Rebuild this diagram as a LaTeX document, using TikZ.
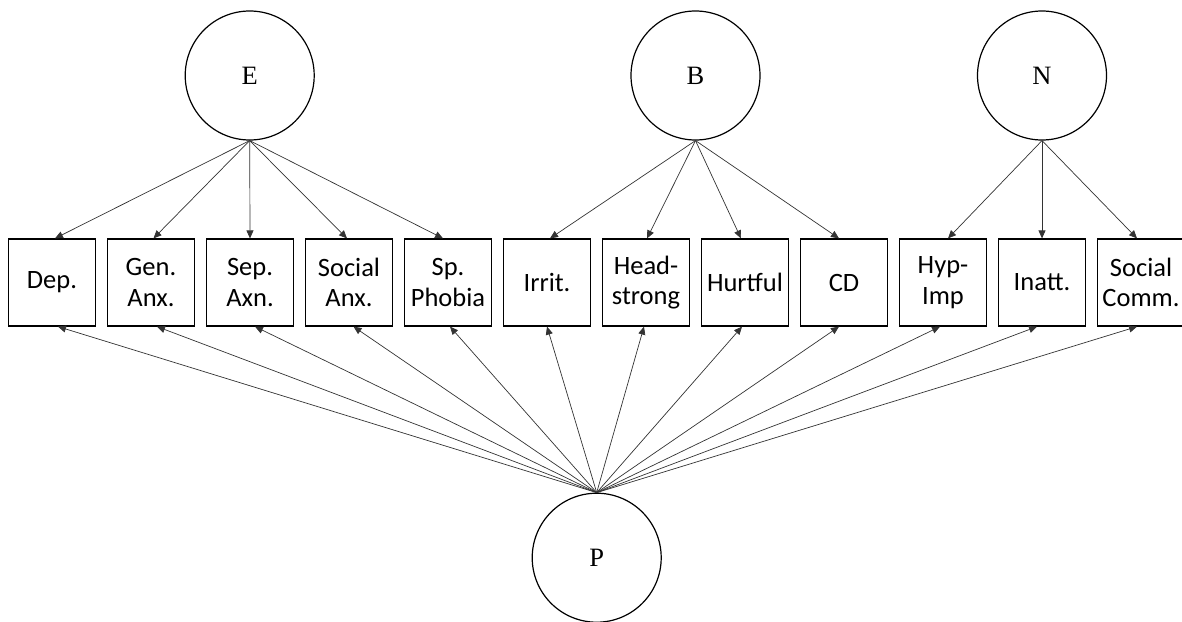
\documentclass[tikz,border=0pt]{standalone}
\usepackage{fontspec}
\setsansfont{Carlito}
\newfontfamily\circfont{Liberation Serif}
\usetikzlibrary{arrows.meta}
\begin{document}
\begin{tikzpicture}[x=1pt,y=-1pt,
  latent/.style={draw,circle,line width=1.2pt,minimum size=129pt,inner sep=0pt,font=\circfont\fontsize{26.5}{30}\selectfont},
  obs/.style={draw,rectangle,line width=1.2pt,minimum width=87pt,minimum height=87pt,inner sep=1pt,align=center,font=\sffamily\fontsize{26.5}{30.5}\selectfont},
  path/.style={draw=black!80,line width=0.7pt,-{Triangle[length=8pt,width=7pt]}}]
\useasboundingbox (0,0) rectangle (1182,621);
\node[latent] (E) at (249.7,75.5) {E};
\node[latent] (B) at (695.5,75.5) {B};
\node[latent] (N) at (1042,75.5) {N};
\node[latent] (P) at (596.7,557.7) {P};
\node[obs] (o0) at (52,282.5) {Dep.};
\node[obs] (o1) at (151,282.5) {Gen.\\Anx.};
\node[obs] (o2) at (250,282.5) {Sep.\\Axn.};
\node[obs] (o3) at (349,282.5) {Social\\Anx.};
\node[obs] (o4) at (448,282.5) {Sp.\\Phobia};
\node[obs] (o5) at (547,282.5) {Irrit.};
\node[obs] (o6) at (646,282.5) {Head-\\strong};
\node[obs] (o7) at (745,282.5) {Hurtful};
\node[obs] (o8) at (844,282.5) {CD};
\node[obs] (o9) at (943,282.5) {Hyp-\\Imp};
\node[obs] (o10) at (1042,282.5) {Inatt.};
\node[obs] (o11) at (1141,282.5) {Social\\Comm.};
% E loadings
\draw[path] (E.south) -- ([xshift=3pt]o0.north);
\draw[path] (E.south) -- ([xshift=2.5pt]o1.north);
\draw[path] (E.south) -- (o2.north);
\draw[path] (E.south) -- ([xshift=-2pt]o3.north);
\draw[path] (E.south) -- ([xshift=-5pt]o4.north);
% B loadings
\draw[path] (B.south) -- ([xshift=3pt]o5.north);
\draw[path] (B.south) -- ([xshift=1pt]o6.north);
\draw[path] (B.south) -- ([xshift=-4pt]o7.north);
\draw[path] (B.south) -- ([xshift=-5pt]o8.north);
% N loadings
\draw[path] (N.south) -- ([xshift=5pt]o9.north);
\draw[path] (N.south) -- (o10.north);
\draw[path] (N.south) -- ([xshift=-4pt]o11.north);
% P loadings
\draw[path] (P.north) -- ([xshift=6pt]o0.south);
\draw[path] (P.north) -- ([xshift=6pt]o1.south);
\draw[path] (P.north) -- ([xshift=5pt]o2.south);
\draw[path] (P.north) -- ([xshift=4.5pt]o3.south);
\draw[path] (P.north) -- ([xshift=2pt]o4.south);
\draw[path] (P.north) -- (o5.south);
\draw[path] (P.north) -- ([xshift=-2pt]o6.south);
\draw[path] (P.north) -- ([xshift=-3pt]o7.south);
\draw[path] (P.north) -- ([xshift=-5pt]o8.south);
\draw[path] (P.north) -- ([xshift=-3pt]o9.south);
\draw[path] (P.north) -- ([xshift=-5pt]o10.south);
\draw[path] (P.north) -- ([xshift=-4pt]o11.south);
\end{tikzpicture}
\end{document}
